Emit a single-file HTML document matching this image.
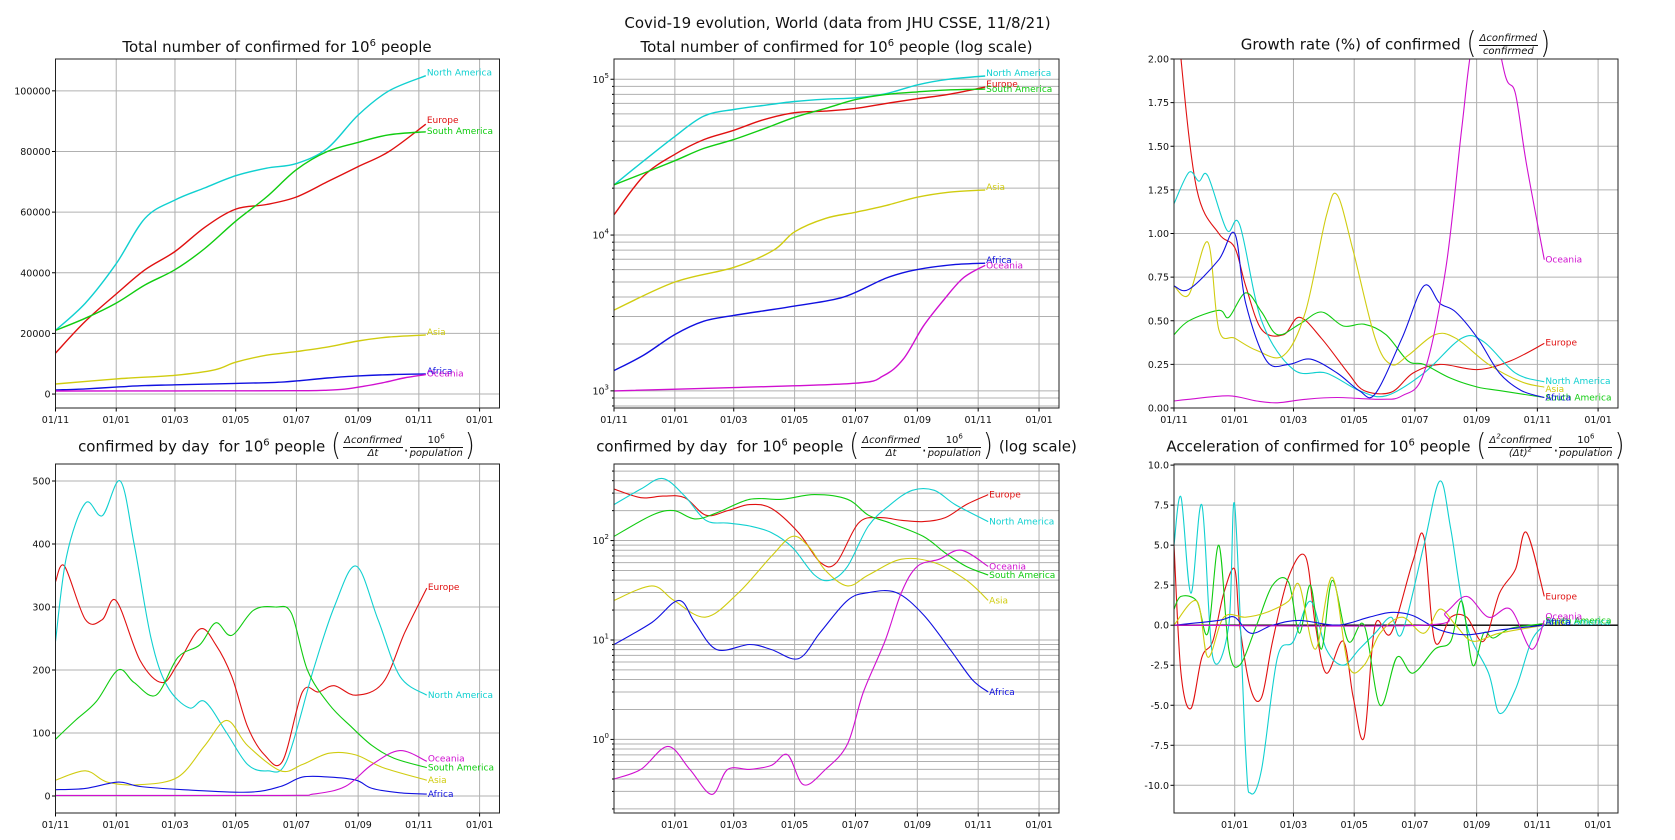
<!DOCTYPE html>
<html><head><meta charset="utf-8">
<style>
body{margin:0;background:#fff;}
#wrap{position:relative;width:1675px;height:840px;overflow:hidden;font-family:"DejaVu Sans","Liberation Sans",sans-serif;}
.ttl{position:absolute;display:flex;justify-content:center;white-space:nowrap;font-size:15px;color:#111;align-items:center;}
.ttl > span.in{display:inline-block;white-space:nowrap;}
.frac{display:inline-flex;flex-direction:column;vertical-align:middle;font-size:10px;font-style:italic;text-align:center;line-height:12px;margin:0 1px;}
.frac .n{border-bottom:1px solid #111;padding:0 1px;}
.par{font-size:26px;transform:scaleY(1.15);display:inline-block;font-weight:100;margin:0 1px;position:relative;top:-1px;vertical-align:middle;line-height:26px;}
sup{font-size:10px;vertical-align:super;line-height:0;}
</style></head><body>
<div id="wrap">
<svg id="svg" width="1675" height="840" style="position:absolute;left:0;top:0"></svg>
<div class="ttl" style="left:0;width:1675px;top:12px;height:22px;"><span class="in">Covid-19 evolution, World (data from JHU CSSE, 11/8/21)</span></div>
<div class="ttl" style="left:55px;width:444px;top:36px;height:22px;"><span class="in">Total number of confirmed for 10<sup>6</sup> people</span></div>
<div class="ttl" style="left:614px;width:445px;top:36px;height:22px;"><span class="in">Total number of confirmed for 10<sup>6</sup> people (log scale)</span></div>
<div class="ttl" style="left:1174px;width:444px;top:30px;height:30px;"><span class="in">Growth rate (%) of confirmed <span class="par">(</span><span class="frac"><span class="n">Δconfirmed</span><span>confirmed</span></span><span class="par">)</span></span></div>
<div class="ttl" style="left:55px;width:444px;top:432px;height:30px;"><span class="in">confirmed by day&nbsp; for 10<sup>6</sup> people <span class="par">(</span><span class="frac"><span class="n">Δconfirmed</span><span>Δt</span></span>.<span class="frac"><span class="n" style="font-style:normal">10<sup style="font-size:7px">6</sup></span><span>population</span></span><span class="par">)</span></span></div>
<div class="ttl" style="left:614px;width:445px;top:432px;height:30px;"><span class="in">confirmed by day&nbsp; for 10<sup>6</sup> people <span class="par">(</span><span class="frac"><span class="n">Δconfirmed</span><span>Δt</span></span>.<span class="frac"><span class="n" style="font-style:normal">10<sup style="font-size:7px">6</sup></span><span>population</span></span><span class="par">)</span> (log scale)</span></div>
<div class="ttl" style="left:1174px;width:444px;top:432px;height:30px;"><span class="in">Acceleration of confirmed for 10<sup>6</sup> people <span class="par">(</span><span class="frac"><span class="n">Δ<sup style="font-size:7px">2</sup>confirmed</span><span>(Δt)<sup style="font-size:7px">2</sup></span></span>.<span class="frac"><span class="n" style="font-style:normal">10<sup style="font-size:7px">6</sup></span><span>population</span></span><span class="par">)</span></span></div>
</div>
<script>
// ---- data (day since 2020-11-01, value) ----
const xTickDays = [0,61,120,181,242,304,365,426];
const xTickLabels = ["01/11","01/01","01/03","01/05","01/07","01/09","01/11","01/01"];
const regions = ["Europe","North America","South America","Asia","Africa","Oceania"];

const tot_EU=[[0,13500],[30,24000],[61,33000],[90,41000],[120,47000],[150,55000],[181,61000],[212,62500],[242,65000],[273,70000],[304,75000],[335,80000],[372,89000]];
const tot_NA=[[0,21000],[30,30000],[61,43000],[90,58000],[120,64000],[150,68000],[181,72000],[212,74500],[242,76000],[273,81000],[304,92000],[335,100000],[372,105000]];
const tot_SA=[[0,21000],[30,25000],[61,30000],[90,36000],[120,41000],[150,48000],[181,57000],[212,65000],[242,74000],[273,80000],[304,83000],[335,85500],[372,86500]];
const tot_AS=[[0,3300],[61,5000],[120,6200],[160,8000],[181,10500],[212,12800],[242,14000],[273,15500],[304,17500],[335,18800],[372,19500]];
const tot_AF=[[0,1350],[30,1700],[61,2300],[90,2800],[120,3050],[181,3500],[230,4000],[273,5300],[304,6000],[340,6450],[372,6600]];
const tot_OC=[[0,1000],[120,1050],[242,1120],[270,1250],[290,1600],[310,2600],[330,3800],[350,5300],[372,6400]];

const gr_EU=[[0,2.6],[7,2.0],[23,1.25],[45,1.0],[61,0.92],[72,0.7],[88,0.45],[110,0.42],[126,0.52],[148,0.4],[175,0.2],[191,0.1],[218,0.09],[240,0.2],[267,0.25],[305,0.22],[338,0.27],[372,0.37]];
const gr_NA=[[0,1.17],[15,1.35],[25,1.3],[34,1.33],[53,1.02],[66,1.05],[88,0.5],[120,0.22],[153,0.2],[186,0.1],[213,0.07],[251,0.2],[289,0.4],[311,0.38],[343,0.2],[372,0.15]];
const gr_SA=[[0,0.42],[15,0.5],[45,0.56],[55,0.52],[72,0.66],[88,0.55],[104,0.42],[126,0.48],[148,0.55],[170,0.47],[191,0.48],[213,0.42],[235,0.27],[251,0.25],[278,0.17],[305,0.12],[327,0.1],[372,0.06]];
const gr_AS=[[0,0.7],[15,0.65],[34,0.95],[45,0.45],[61,0.4],[83,0.33],[110,0.3],[132,0.55],[153,1.1],[164,1.22],[180,0.9],[202,0.4],[218,0.25],[235,0.3],[262,0.42],[283,0.4],[316,0.25],[349,0.15],[372,0.12]];
const gr_AF=[[0,0.7],[15,0.68],[45,0.85],[61,1.0],[72,0.6],[93,0.27],[115,0.25],[137,0.28],[164,0.2],[186,0.1],[202,0.08],[229,0.4],[251,0.7],[267,0.6],[283,0.55],[305,0.4],[327,0.2],[349,0.1],[372,0.06]];
const gr_OC=[[0,0.04],[15,0.05],[55,0.07],[83,0.04],[104,0.03],[132,0.05],[164,0.06],[208,0.05],[229,0.07],[251,0.2],[273,0.8],[289,1.6],[300,2.1],[316,2.3],[333,1.9],[343,1.8],[354,1.4],[372,0.85]];

const day_EU=[[0,340],[9,365],[30,280],[47,280],[61,310],[85,215],[107,180],[123,210],[145,265],[161,240],[177,190],[193,110],[210,65],[228,55],[248,165],[264,165],[280,175],[302,160],[329,180],[351,260],[373,330]];
const day_NA=[[0,245],[11,380],[30,465],[47,445],[65,500],[79,400],[96,250],[112,175],[134,140],[150,150],[172,100],[193,50],[213,40],[232,55],[259,200],[280,300],[302,365],[324,280],[346,190],[373,160]];
const day_SA=[[0,90],[20,120],[41,150],[63,200],[79,180],[101,160],[123,220],[145,240],[161,275],[177,255],[199,295],[221,300],[237,290],[253,200],[275,145],[297,110],[318,80],[340,60],[373,45]];
const day_AS=[[0,25],[30,40],[52,22],[85,18],[123,30],[150,80],[172,120],[193,80],[226,40],[248,50],[275,68],[302,65],[329,45],[373,25]];
const day_AF=[[0,10],[30,12],[63,22],[85,15],[128,10],[193,6],[226,15],[248,30],[275,30],[302,25],[318,12],[346,5],[373,3]];
const day_OC=[[0,1],[226,1],[259,3],[291,15],[318,50],[346,72],[373,55]];

const ld_EU=[[0,330],[27,270],[49,280],[71,270],[92,180],[114,200],[136,230],[158,210],[185,120],[207,60],[223,60],[245,150],[266,170],[288,160],[310,155],[332,170],[353,230],[375,290]];
const ld_NA=[[0,230],[27,330],[49,420],[71,280],[92,160],[114,150],[136,140],[158,120],[179,85],[201,45],[217,40],[234,55],[255,140],[277,230],[299,320],[321,320],[342,230],[375,155]];
const ld_SA=[[0,110],[38,180],[60,200],[81,165],[103,190],[136,260],[168,260],[201,290],[234,260],[255,180],[277,150],[310,110],[332,75],[353,55],[375,45]];
const ld_AS=[[0,25],[38,35],[60,25],[92,17],[125,30],[158,70],[179,110],[196,85],[212,50],[234,35],[255,45],[288,65],[321,60],[353,40],[375,25]];
const ld_AF=[[0,9],[38,15],[65,25],[81,15],[103,8],[136,9],[158,8],[185,6.5],[207,12],[234,25],[255,30],[283,30],[310,18],[337,8],[359,4],[375,3]];
const ld_OC=[[0,0.4],[27,0.5],[54,0.85],[76,0.5],[98,0.28],[114,0.5],[136,0.5],[158,0.55],[174,0.7],[190,0.35],[212,0.5],[234,0.9],[250,3],[272,10],[288,30],[304,55],[326,65],[348,80],[375,55]];

const acc_EU=[[0,5],[7,-3],[17,-5.2],[28,-2],[39,-1],[50,2],[61,3.5],[66,0],[77,-4],[88,-4.5],[99,-1],[115,3],[132,4.3],[142,0],[153,-3],[170,-1],[180,-4.5],[191,-7],[202,0],[218,-0.5],[240,4],[251,5.5],[262,-1],[278,0.5],[294,0.5],[311,-1],[327,2],[343,3.5],[354,5.8],[372,1.8]];
const acc_NA=[[0,5],[7,8],[17,2],[28,7.5],[39,-2],[55,0],[61,7.5],[72,-8],[77,-10.5],[88,-9],[104,-2],[120,-1],[137,1.5],[153,-1.5],[170,-2.5],[186,-1.5],[202,-0.5],[218,0.5],[229,-0.5],[251,5],[267,9],[278,6],[294,0],[316,-3],[327,-5.5],[343,-4],[359,-1],[372,0]];
const acc_SA=[[0,1],[7,1.8],[23,1.5],[34,-0.5],[45,5],[55,-1.5],[66,-2.5],[83,0],[99,2.5],[115,2.7],[126,-0.5],[137,2.5],[148,-1.5],[159,2.8],[175,-1],[191,0],[207,-5],[224,-2],[240,-3],[262,-1.5],[278,-1],[289,1.5],[300,-2.5],[311,-0.5],[321,-0.8],[338,-0.2],[372,0.1]];
const acc_AS=[[0,0],[23,1.5],[34,-2],[50,0.5],[72,0.5],[93,0.8],[115,1.5],[126,2.5],[142,-1.5],[159,3],[175,-2.5],[191,-2.5],[207,-0.5],[229,0.5],[251,-0.5],[267,1],[283,0],[300,-1],[327,-0.5],[372,0]];
const acc_AF=[[0,0],[45,0.3],[61,0.5],[77,-0.5],[99,0],[126,0.3],[164,0],[196,0.5],[218,0.8],[240,0.6],[267,-0.3],[294,-0.6],[327,-0.3],[372,0]];
const acc_OC=[[0,0],[251,0],[273,0.8],[294,1.8],[316,0.5],[338,1],[359,-1.5],[372,0.3]];

// ---- layout ----
const colors={"Europe":"#e01010","North America":"#10d0d0","South America":"#10cc10","Asia":"#d0cc10","Africa":"#1010e0","Oceania":"#d010d0"};
const svg=document.getElementById('svg');
const NS="http://www.w3.org/2000/svg";
function mk(tag,attrs,parent){const e=document.createElementNS(NS,tag);for(const k in attrs)e.setAttribute(k,attrs[k]);(parent||svg).appendChild(e);return e;}
const DMAX=446;
function smooth(pts){
  if(pts.length<2)return "";
  let d="M"+pts[0][0].toFixed(1)+","+pts[0][1].toFixed(1);
  for(let i=0;i<pts.length-1;i++){
    const p0=pts[Math.max(0,i-1)],p1=pts[i],p2=pts[i+1],p3=pts[Math.min(pts.length-1,i+2)];
    const c1x=p1[0]+(p2[0]-p0[0])/6,c1y=p1[1]+(p2[1]-p0[1])/6;
    const c2x=p2[0]-(p3[0]-p1[0])/6,c2y=p2[1]-(p3[1]-p1[1])/6;
    d+=" C"+c1x.toFixed(1)+","+c1y.toFixed(1)+" "+c2x.toFixed(1)+","+c2y.toFixed(1)+" "+p2[0].toFixed(1)+","+p2[1].toFixed(1);
  }
  return d;
}
let pid=0;
function panel(o){
  pid++;
  const g=mk('g',{});
  
  
  const x0=o.x,y0=o.y,W=o.w,H=349;
  const sx=d=>x0+d/DMAX*W;
  const tr=v=>o.log?Math.log10(v):v;
  const sy=v=>y0+H-(tr(v)-o.ymin)/(o.ymax-o.ymin)*H;
  const cp=mk('clipPath',{id:'c'+pid},g);mk('rect',{x:x0,y:y0,width:W,height:H},cp);
  const grid=mk('g',{stroke:'#b0b0b0','stroke-width':1},g);
  
  
  xTickDays.forEach((d,i)=>{
    if(o.skipFirst&&i==0)return;
    const x=sx(d);
    mk('line',{x1:x,x2:x,y1:y0,y2:y0+H},grid);
    mk('line',{x1:x,x2:x,y1:y0+H,y2:y0+H+3.5,stroke:'#000'},g);
    const t=mk('text',{x:x,y:y0+H+15,'font-size':9.5,'text-anchor':'middle',fill:'#111'},g);
    t.textContent=xTickLabels[i];
    
    
  });
  if(o.log){
    for(let e=Math.floor(o.ymin);e<=Math.ceil(o.ymax);e++){
      for(let m=1;m<10;m++){
        const lv=e+Math.log10(m);
        if(lv<o.ymin||lv>o.ymax)continue;
        const y=y0+H-(lv-o.ymin)/(o.ymax-o.ymin)*H;
        mk('line',{x1:x0,x2:x0+W,y1:y,y2:y},grid);
        mk('line',{x1:x0-(m==1?3.5:2),x2:x0,y1:y,y2:y,stroke:'#000'},g);
        if(m==1){
          const t=mk('text',{x:x0-5,y:y+3.5,'font-size':9.5,'text-anchor':'end',fill:'#111'},g);
          
          
          t.textContent='10';
          const s=mk('tspan',{dy:-5,'font-size':7},t);s.textContent=String(e);
        }
      }
    }
  } else {
    o.yticks.forEach(v=>{
      const y=sy(v);
      mk('line',{x1:x0,x2:x0+W,y1:y,y2:y},grid);
      mk('line',{x1:x0-3.5,x2:x0,y1:y,y2:y,stroke:'#000'},g);
      const t=mk('text',{x:x0-5,y:y+3.5,'font-size':9.5,'text-anchor':'end',fill:'#111'},g);
      
      
      t.textContent=o.fmt(v);
    });
  }
  if(o.zeroLine){const l=mk('line',{x1:x0,x2:x0+W,y1:sy(0),y2:sy(0),stroke:'#000','stroke-width':1.3},g);
    }
  const lines=mk('g',{'clip-path':'url(#c'+pid+')'},g);
  o.series.forEach((s,i)=>{
    const r=regions[i];
    const pts=s.map(p=>[sx(p[0]),sy(p[1])]);
    const p=mk('path',{d:smooth(pts),fill:'none',stroke:colors[r],'stroke-width':o.lw||1.1},lines);
    
    
  });
  o.series.forEach((s,i)=>{
    const r=regions[i];const last=s[s.length-1];
    let yv=sy(last[1]);
    if(o.labelDy)yv+=o.labelDy[i];
    if(yv<y0||yv>y0+H)return;
    const t=mk('text',{x:sx(last[0])+1,y:yv,'font-size':9,fill:colors[r]},g);
    t.textContent=r;
    
    
  });
  const fr=mk('rect',{x:x0,y:y0,width:W,height:H,fill:'none',stroke:'#222','stroke-width':1},g);
  
  
}
const X=[55.5,614,1174],Y=[59,464],Wd=444;
panel({name:'total',x:X[0],y:Y[0],w:Wd,ymin:-4600,ymax:110500,yticks:[0,20000,40000,60000,80000,100000],fmt:v=>String(v),
  series:[tot_EU,tot_NA,tot_SA,tot_AS,tot_AF,tot_OC],lw:1.4,labelDy:[-1,0,2,0,0,2]});
panel({name:'total-log',x:X[1],y:Y[0],w:Wd+1,log:true,ymin:2.89,ymax:5.13,
  series:[tot_EU,tot_NA,tot_SA,tot_AS,tot_AF,tot_OC],lw:1.4,labelDy:[0,0,3,0,0,3]});
panel({name:'growth',x:X[2],y:Y[0],w:Wd,ymin:0,ymax:2,yticks:[0,0.25,0.5,0.75,1,1.25,1.5,1.75,2],fmt:v=>v.toFixed(2),
  series:[gr_EU,gr_NA,gr_SA,gr_AS,gr_AF,gr_OC],labelDy:[2,2,3,5,3,3]});
panel({name:'daily',x:X[0],y:Y[1],w:Wd,ymin:-27,ymax:527,yticks:[0,100,200,300,400,500],fmt:v=>String(v),
  series:[day_EU,day_NA,day_SA,day_AS,day_AF,day_OC],labelDy:[2,3,3,3,3,0]});
panel({name:'daily-log',x:X[1],y:Y[1],w:Wd+1,log:true,ymin:-0.74,ymax:2.77,skipFirst:true,
  series:[ld_EU,ld_NA,ld_SA,ld_AS,ld_AF,ld_OC],labelDy:[3,3,3,3,3,3]});
panel({name:'acceleration',x:X[2],y:Y[1],w:Wd,ymin:-11.73,ymax:10.07,yticks:[-10,-7.5,-5,-2.5,0,2.5,5,7.5,10],fmt:v=>v.toFixed(1),skipFirst:true,zeroLine:true,
  series:[acc_EU,acc_NA,acc_SA,acc_AS,acc_AF,acc_OC],labelDy:[3,0,0,0,0,-1]});
</script>
</body></html>
